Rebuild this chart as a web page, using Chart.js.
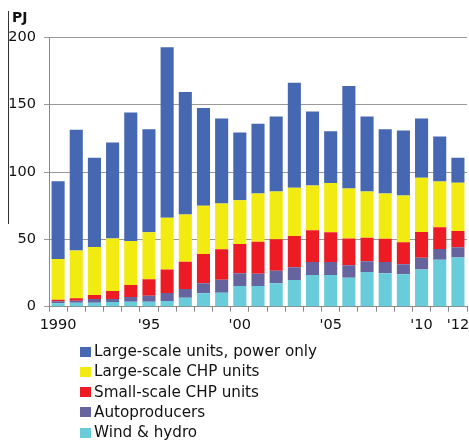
<!DOCTYPE html>
<html>
<head>
<meta charset="utf-8">
<script src="https://cdn.jsdelivr.net/npm/chart.js@4/dist/chart.umd.min.js"></script>
<style>
  html, body { margin: 0; padding: 0; background: #fff; }
  #wrap { position: relative; width: 469px; height: 441px; overflow: hidden; }
  #c { position: absolute; left: 0; top: 0; }
  #legend { position: absolute; left: 80px; top: 341px; font-family: "DejaVu Sans", Verdana, sans-serif; font-size: 15.2px; color: #111; }
  .row { position: relative; height: 20.3px; line-height: 20px; white-space: nowrap; }
  .box { position: absolute; left: 0; top: 5.5px; width: 10.5px; height: 10px; }
  .lab { position: absolute; left: 14px; top: 0; }
</style>
</head>
<body>
<div id="wrap">
  <canvas id="c" width="469" height="441"></canvas>
  <div id="legend"></div>
</div>
<script>
const years = [1990,1991,1992,1993,1994,1995,1996,1997,1998,1999,2000,2001,2002,2003,2004,2005,2006,2007,2008,2009,2010,2011,2012];
const tickLabels = {1990: "1990", 1995: "'95", 2000: "'00", 2005: "'05", 2010: "'10", 2012: "'12"};

const windHydro     = [2.5,2.9,3.0,3.4,3.7,3.7,4.3,6.7,9.9,10.4,15.4,15.4,17.4,19.8,23.5,23.5,21.5,25.7,24.8,24.0,27.7,34.9,36.6];
const autoproducers = [1.5,1.5,2.7,2.4,3.5,4.5,5.9,6.4,7.5,9.6,9.5,9.1,9.3,9.4,9.7,9.7,9.2,8.0,8.4,7.5,8.7,7.9,7.5];
const smallCHP      = [1.2,1.8,3.0,5.8,8.9,12.1,17.5,20.3,21.7,22.6,21.6,23.7,23.3,23.2,23.5,22.0,20.0,17.5,17.2,16.3,19.0,16.1,12.1];
const largeCHP      = [30.2,35.6,35.6,39.1,32.6,34.9,38.3,35.1,35.8,34.1,32.5,35.9,35.6,35.9,33.3,36.6,37.1,34.4,33.7,34.8,40.3,34.1,35.8];
const powerOnly     = [57.8,89.5,66.2,71.2,95.5,76.6,126.7,90.8,72.7,63.1,50.4,51.7,55.6,77.9,54.9,38.5,76.1,55.6,47.7,48.2,44.1,33.4,18.5];

const seriesNames = ["Wind & hydro","Autoproducers","Small-scale CHP units","Large-scale CHP units","Large-scale units, power only"];
const seriesColors = ["#68CCDB","#65649E","#ED1C24","#F2EB11","#4667B1"];
const seriesData = [windHydro, autoproducers, smallCHP, largeCHP, powerOnly];

const FONT = '"DejaVu Sans", Verdana, sans-serif';

const decor = {
  id: 'decor',
  afterDraw(chart) {
    const ctx = chart.ctx;
    ctx.save();
    ctx.strokeStyle = '#333';
    ctx.lineWidth = 1;
    ctx.beginPath();
    ctx.moveTo(8.5, 11);
    ctx.lineTo(8.5, 224);
    ctx.stroke();
    ctx.fillStyle = '#111';
    ctx.font = 'bold 14px ' + FONT;
    ctx.textBaseline = 'alphabetic';
    ctx.textAlign = 'left';
    ctx.fillText('PJ', 12, 22);
    ctx.restore();
  }
};

new Chart(document.getElementById('c'), {
  type: 'bar',
  data: {
    labels: years,
    datasets: seriesNames.map((n, i) => ({
      label: n,
      data: seriesData[i],
      backgroundColor: seriesColors[i],
      borderWidth: 0,
      barPercentage: 0.72,
      categoryPercentage: 1.0
    }))
  },
  options: {
    responsive: false,
    animation: false,
    devicePixelRatio: 1,
    layout: { padding: { top: 37.3, right: 2, bottom: 109.3, left: 0 } },
    plugins: { legend: { display: false }, tooltip: { enabled: false }, title: { display: false } },
    scales: {
      x: {
        stacked: true,
        offset: true,
        grid: { offset: true, drawOnChartArea: false, drawTicks: true, tickLength: 5, color: '#888' },
        border: { color: '#888' },
        ticks: {
          autoSkip: false, maxRotation: 0, minRotation: 0, padding: 5,
          color: '#111', font: { family: FONT, size: 14.5 },
          callback: function(v, i) { const y = years[i]; return tickLabels[y] || ''; }
        },
        afterFit(scale) { scale.height = 25; scale.paddingLeft = 0; scale.paddingRight = 0; }
      },
      y: {
        stacked: true,
        min: 0, max: 200,
        grid: { color: '#999', tickLength: 5, drawTicks: true },
        border: { color: '#888' },
        ticks: { stepSize: 50, padding: 8, color: '#111', font: { family: FONT, size: 14.5 } },
        afterFit(scale) { scale.width = 49; }
      }
    }
  },
  plugins: [decor]
});

// legend (top to bottom as in reference)
const leg = document.getElementById('legend');
for (let i = seriesNames.length - 1; i >= 0; i--) {
  const row = document.createElement('div');
  row.className = 'row';
  const b = document.createElement('span');
  b.className = 'box';
  b.style.background = seriesColors[i];
  const t = document.createElement('span');
  t.className = 'lab';
  t.textContent = seriesNames[i];
  row.appendChild(b); row.appendChild(t);
  leg.appendChild(row);
}
</script>
</body>
</html>
